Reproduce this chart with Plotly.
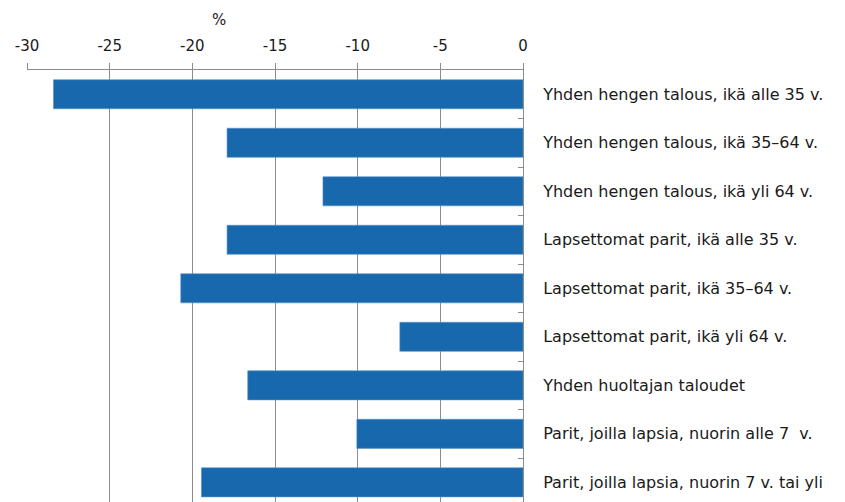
import plotly.graph_objects as go

# ---------------------------------------------------------------------------
# Data
# ---------------------------------------------------------------------------

categories = [
    "Yhden hengen talous, ikä alle 35 v.",
    "Yhden hengen talous, ikä 35–64 v.",
    "Yhden hengen talous, ikä yli 64 v.",
    "Lapsettomat parit, ikä alle 35 v.",
    "Lapsettomat parit, ikä 35–64 v.",
    "Lapsettomat parit, ikä yli 64 v.",
    "Yhden huoltajan taloudet",
    "Parit, joilla lapsia, nuorin alle 7  v.",
    "Parit, joilla lapsia, nuorin 7 v. tai yli",
]
values = [-28.4, -17.9, -12.1, -17.9, -20.7, -7.45, -16.65, -10.05, -19.45]

tick_vals = [-30, -25, -20, -15, -10, -5, 0]
tick_text = ["-30", "-25", "-20", "-15", "-10", "-5", "0"]

BAR_BLUE = "#1868AE"
GRID_GRAY = "#8c8c8c"
FONT = "DejaVu Sans"

fig = go.Figure(go.Bar(
    x=values,
    y=categories,
    orientation="h",
    marker=dict(color=BAR_BLUE, line=dict(color="#5b92c8", width=0.6)),
    width=0.6,
))

# page body adds an 8px offset, so margins are trimmed to match
fig.update_layout(
    width=845,
    height=502,
    margin=dict(l=19, r=330, t=62, b=0),
    paper_bgcolor="white",
    plot_bgcolor="white",
    showlegend=False,
    font=dict(family=FONT, size=15, color="#1a1a1a"),
    xaxis=dict(
        side="top",
        range=[-30, 0],
        tickvals=tick_vals,
        ticktext=tick_text,
        showgrid=True,
        gridcolor=GRID_GRAY,
        gridwidth=1,
        showline=True,
        linecolor=GRID_GRAY,
        linewidth=1,
        ticks="outside",
        ticklen=6,
        tickcolor=GRID_GRAY,
        zeroline=False,
        ticklabelstandoff=6,
    ),
    yaxis=dict(
        side="right",
        range=[8.57, -0.5],
        showline=True,
        linecolor=GRID_GRAY,
        linewidth=1,
        ticks="inside",
        tickson="boundaries",
        ticklen=5,
        tickcolor=GRID_GRAY,
        showgrid=False,
        ticklabelstandoff=16,
        tickfont=dict(size=16),
    ),
)

fig.add_annotation(
    text="%",
    x=-18.4, y=1, xref="x", yref="paper",
    yanchor="middle", yshift=50, showarrow=False,
    font=dict(size=15),
)

fig.write_html("out.html")
